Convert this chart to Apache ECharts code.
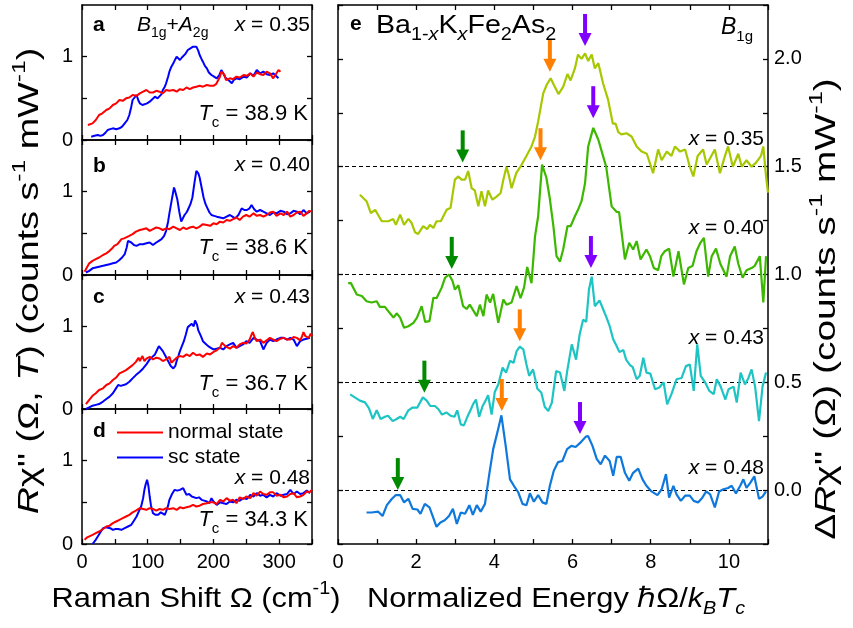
<!DOCTYPE html>
<html><head><meta charset="utf-8">
<script src="https://cdn.jsdelivr.net/npm/echarts@6/dist/echarts.min.js"></script>
<style>html,body{margin:0;padding:0;background:#fff}#c{width:853px;height:628px}</style>
</head><body><div id="c"></div>
<script>
// ---------- DATA (left panels: Raman shift cm^-1 vs R chi'') ----------
const aRed = [[9,0.18],[16,0.20],[21,0.24],[26,0.30],[31,0.32],[37,0.36],[42,0.38],[47,0.42],[52,0.44],[57,0.48],[62,0.47],[67,0.50],[72,0.51],[77,0.54],[83,0.53],[88,0.56],[93,0.58],[98,0.60],[103,0.57],[108,0.57],[113,0.59],[118,0.58],[123,0.56],[128,0.60],[133,0.59],[139,0.60],[144,0.58],[149,0.61],[154,0.60],[159,0.63],[164,0.61],[169,0.63],[174,0.64],[179,0.65],[184,0.64],[190,0.66],[195,0.65],[200,0.65],[204,0.67],[207,0.68],[210,0.76],[212,0.82],[215,0.84],[217,0.78],[219,0.72],[222,0.70],[225,0.74],[230,0.73],[235,0.76],[240,0.75],[246,0.78],[251,0.77],[256,0.80],[261,0.76],[266,0.81],[271,0.79],[276,0.78],[281,0.82],[286,0.80],[291,0.74],[295,0.79],[299,0.84],[302,0.82]];
const aBlue = [[14,0.04],[19,0.05],[24,0.06],[28,0.05],[32,0.06],[36,0.09],[39,0.12],[43,0.13],[47,0.14],[52,0.13],[57,0.14],[61,0.16],[65,0.20],[69,0.24],[72,0.30],[75,0.40],[77,0.48],[80,0.50],[83,0.54],[86,0.47],[88,0.44],[92,0.42],[95,0.42],[99,0.44],[103,0.46],[107,0.49],[111,0.52],[115,0.50],[118,0.50],[121,0.55],[123,0.60],[126,0.64],[128,0.68],[131,0.76],[133,0.82],[136,0.88],[139,0.92],[142,0.97],[144,1.00],[147,0.98],[149,0.96],[152,0.99],[154,1.00],[157,1.03],[161,1.08],[165,1.10],[169,1.12],[172,1.10],[174,1.12],[177,1.07],[179,1.02],[182,0.97],[184,0.94],[187,0.89],[190,0.86],[193,0.81],[197,0.78],[201,0.76],[205,0.74],[209,0.78],[212,0.84],[215,0.80],[218,0.75],[220,0.74],[224,0.71],[228,0.68],[231,0.72],[235,0.74],[240,0.73],[246,0.76],[251,0.75],[256,0.80],[261,0.77],[266,0.84],[271,0.80],[276,0.82],[281,0.79],[286,0.78],[291,0.80],[295,0.77],[299,0.74]];
const bRed = [[4,0.04],[8,0.10],[11,0.14],[16,0.17],[21,0.19],[26,0.21],[32,0.24],[37,0.26],[42,0.29],[46,0.32],[49,0.35],[54,0.37],[57,0.40],[60,0.43],[64,0.44],[67,0.45],[72,0.47],[77,0.49],[82,0.52],[88,0.54],[93,0.55],[98,0.56],[103,0.53],[108,0.55],[113,0.57],[118,0.56],[123,0.54],[128,0.56],[133,0.55],[139,0.58],[144,0.56],[149,0.54],[154,0.57],[159,0.55],[164,0.57],[169,0.58],[174,0.56],[179,0.58],[184,0.61],[190,0.60],[195,0.59],[200,0.62],[205,0.61],[210,0.64],[215,0.63],[220,0.66],[225,0.65],[230,0.67],[235,0.69],[240,0.66],[245,0.70],[250,0.72],[255,0.70],[261,0.74],[266,0.71],[271,0.72],[276,0.70],[281,0.72],[286,0.75],[291,0.76],[296,0.71],[302,0.74],[307,0.72],[312,0.76],[317,0.70],[322,0.72],[327,0.75],[332,0.76],[337,0.71],[342,0.74],[346,0.77],[350,0.76]];
const bBlue = [[6,0.03],[11,0.05],[16,0.08],[21,0.09],[26,0.10],[32,0.11],[37,0.12],[42,0.13],[47,0.14],[52,0.15],[57,0.18],[61,0.21],[65,0.25],[68,0.33],[70,0.41],[73,0.40],[75,0.39],[79,0.36],[83,0.35],[88,0.37],[93,0.37],[98,0.38],[103,0.39],[108,0.36],[113,0.39],[117,0.41],[121,0.43],[125,0.47],[128,0.53],[131,0.64],[133,0.74],[137,0.92],[140,1.05],[142,1.00],[145,0.91],[148,0.76],[151,0.64],[153,0.66],[156,0.72],[159,0.75],[161,0.78],[165,0.85],[168,0.93],[171,1.10],[174,1.25],[177,1.22],[179,1.17],[182,1.05],[185,0.93],[188,0.85],[191,0.80],[194,0.75],[197,0.72],[201,0.71],[205,0.70],[210,0.69],[215,0.68],[220,0.70],[225,0.72],[229,0.70],[233,0.68],[238,0.72],[243,0.80],[247,0.78],[251,0.78],[255,0.80],[258,0.84],[262,0.79],[266,0.76],[271,0.78],[276,0.76],[281,0.74],[286,0.72],[291,0.75],[296,0.74],[302,0.77],[307,0.76],[312,0.73],[317,0.74],[322,0.77],[327,0.76],[332,0.73],[337,0.78],[342,0.74],[347,0.76]];
const cRed = [[6,0.06],[11,0.11],[16,0.16],[21,0.19],[26,0.23],[32,0.25],[37,0.29],[42,0.31],[47,0.35],[52,0.38],[57,0.43],[62,0.45],[67,0.47],[72,0.50],[77,0.53],[82,0.57],[86,0.62],[88,0.58],[92,0.64],[95,0.58],[98,0.61],[103,0.63],[108,0.60],[113,0.62],[118,0.61],[123,0.58],[128,0.60],[133,0.63],[136,0.56],[139,0.58],[144,0.62],[149,0.64],[154,0.63],[159,0.66],[164,0.64],[169,0.68],[174,0.65],[179,0.66],[184,0.63],[190,0.67],[195,0.66],[200,0.69],[205,0.71],[210,0.74],[213,0.80],[215,0.82],[218,0.76],[220,0.74],[225,0.73],[230,0.76],[235,0.74],[240,0.78],[245,0.80],[250,0.79],[255,0.84],[258,0.90],[260,0.93],[263,0.86],[266,0.82],[271,0.84],[276,0.80],[281,0.83],[286,0.86],[291,0.84],[296,0.82],[302,0.85],[307,0.86],[312,0.84],[317,0.84],[322,0.87],[327,0.86],[332,0.83],[335,0.88],[337,0.93],[340,0.88],[345,0.86],[348,0.91],[350,0.88]];
const cBlue = [[6,0.0],[11,0.02],[16,0.04],[21,0.05],[26,0.06],[32,0.09],[37,0.12],[42,0.15],[47,0.19],[51,0.24],[55,0.29],[59,0.28],[62,0.27],[67,0.30],[72,0.33],[77,0.37],[82,0.41],[88,0.45],[93,0.49],[98,0.54],[103,0.60],[107,0.63],[111,0.66],[114,0.71],[117,0.76],[120,0.73],[123,0.70],[127,0.64],[131,0.58],[135,0.52],[139,0.49],[142,0.52],[144,0.58],[147,0.65],[149,0.70],[152,0.76],[155,0.82],[158,0.90],[161,0.99],[164,1.01],[167,1.03],[170,1.00],[172,1.07],[175,1.02],[177,0.95],[181,0.88],[184,0.82],[188,0.79],[192,0.76],[196,0.74],[200,0.72],[205,0.73],[210,0.74],[215,0.72],[220,0.76],[225,0.78],[230,0.80],[235,0.74],[240,0.76],[245,0.78],[250,0.82],[255,0.80],[261,0.86],[266,0.84],[271,0.82],[276,0.72],[281,0.80],[286,0.84],[291,0.82],[296,0.84],[302,0.86],[307,0.86],[312,0.84],[317,0.86],[322,0.84],[327,0.76],[332,0.82],[337,0.84],[342,0.85],[347,0.86]];
const dRed = [[4,0.05],[8,0.08],[11,0.10],[16,0.11],[21,0.13],[26,0.15],[32,0.18],[37,0.21],[42,0.22],[47,0.25],[52,0.27],[57,0.29],[62,0.31],[67,0.33],[72,0.35],[77,0.38],[82,0.40],[88,0.43],[93,0.42],[98,0.41],[103,0.43],[108,0.42],[113,0.40],[118,0.42],[123,0.41],[128,0.43],[133,0.42],[139,0.43],[144,0.41],[149,0.44],[154,0.43],[159,0.44],[164,0.45],[169,0.47],[174,0.45],[179,0.46],[184,0.48],[190,0.49],[195,0.50],[200,0.50],[205,0.48],[210,0.53],[215,0.51],[220,0.55],[225,0.52],[230,0.53],[235,0.49],[240,0.56],[245,0.54],[250,0.57],[256,0.55],[261,0.61],[266,0.58],[271,0.63],[276,0.60],[281,0.59],[286,0.62],[291,0.62],[296,0.58],[302,0.59],[307,0.56],[312,0.57],[317,0.60],[322,0.61],[327,0.56],[332,0.57],[337,0.59],[342,0.63],[346,0.62],[350,0.65]];
const dBlue = [[16,0.0],[20,0.04],[24,0.09],[28,0.14],[32,0.19],[36,0.20],[39,0.21],[43,0.19],[47,0.17],[51,0.18],[55,0.18],[60,0.17],[65,0.19],[70,0.21],[75,0.23],[79,0.28],[83,0.33],[87,0.40],[90,0.45],[93,0.55],[95,0.65],[97,0.72],[99,0.77],[101,0.70],[103,0.57],[105,0.46],[108,0.37],[112,0.35],[116,0.35],[120,0.38],[123,0.37],[126,0.35],[128,0.39],[131,0.46],[133,0.53],[137,0.60],[141,0.65],[145,0.64],[149,0.65],[152,0.66],[154,0.67],[157,0.62],[159,0.59],[163,0.60],[167,0.57],[170,0.58],[174,0.55],[178,0.56],[182,0.53],[186,0.52],[190,0.51],[194,0.49],[197,0.55],[200,0.51],[205,0.47],[210,0.50],[215,0.49],[220,0.48],[225,0.51],[230,0.50],[235,0.53],[240,0.52],[246,0.55],[251,0.54],[256,0.59],[261,0.57],[266,0.61],[271,0.58],[276,0.59],[281,0.56],[286,0.59],[291,0.57],[296,0.61],[302,0.58],[307,0.59],[312,0.60],[317,0.65],[322,0.60],[327,0.63],[332,0.60],[337,0.61],[342,0.64],[347,0.61]];

// ---------- DATA (panel e: normalized energy vs Delta R chi'' , curves already offset) ----------
const e035 = [[0.56,1.37],[0.73,1.34],[0.84,1.285],[0.95,1.30],[1.12,1.247],[1.29,1.247],[1.41,1.258],[1.48,1.23],[1.59,1.278],[1.69,1.23],[1.80,1.258],[1.88,1.24],[1.97,1.196],[2.05,1.188],[2.18,1.224],[2.28,1.21],[2.35,1.23],[2.44,1.216],[2.52,1.247],[2.63,1.247],[2.78,1.30],[2.88,1.31],[2.99,1.44],[3.08,1.455],[3.16,1.44],[3.25,1.44],[3.33,1.48],[3.42,1.40],[3.50,1.39],[3.59,1.316],[3.67,1.386],[3.76,1.316],[3.84,1.39],[3.95,1.347],[4.05,1.36],[4.16,1.378],[4.23,1.44],[4.31,1.50],[4.37,1.46],[4.44,1.40],[4.56,1.47],[4.70,1.51],[4.82,1.55],[4.95,1.594],[5.04,1.64],[5.12,1.71],[5.25,1.84],[5.34,1.88],[5.44,1.91],[5.52,1.88],[5.64,1.837],[5.76,1.87],[5.87,1.93],[5.95,1.90],[6.06,1.956],[6.14,2.02],[6.23,2.0],[6.32,2.026],[6.40,1.99],[6.49,2.02],[6.57,1.956],[6.66,1.98],[6.78,1.887],[6.91,1.81],[7.03,1.70],[7.10,1.70],[7.17,1.66],[7.25,1.65],[7.38,1.655],[7.51,1.64],[7.64,1.594],[7.77,1.57],[7.90,1.56],[8.06,1.47],[8.19,1.58],[8.28,1.53],[8.41,1.57],[8.53,1.55],[8.62,1.594],[8.75,1.57],[8.88,1.58],[9.00,1.50],[9.09,1.455],[9.20,1.55],[9.34,1.58],[9.43,1.51],[9.55,1.55],[9.64,1.58],[9.77,1.47],[9.90,1.55],[9.98,1.594],[10.10,1.50],[10.24,1.56],[10.33,1.50],[10.45,1.53],[10.58,1.50],[10.70,1.52],[10.82,1.55],[10.88,1.594],[10.95,1.455],[11.0,1.38]];
const e040 = [[0.26,0.96],[0.33,0.96],[0.48,0.907],[0.61,0.90],[0.73,0.876],[0.86,0.87],[0.99,0.876],[1.07,0.85],[1.2,0.85],[1.33,0.82],[1.42,0.80],[1.5,0.82],[1.59,0.80],[1.69,0.753],[1.8,0.76],[1.93,0.776],[2.02,0.80],[2.14,0.853],[2.23,0.78],[2.34,0.784],[2.44,0.892],[2.52,0.89],[2.65,0.938],[2.74,0.985],[2.84,1.0],[2.93,0.97],[2.99,0.93],[3.08,0.95],[3.2,0.853],[3.29,0.84],[3.37,0.86],[3.55,0.807],[3.63,0.86],[3.72,0.807],[3.80,0.907],[3.89,0.87],[3.97,0.91],[4.10,0.776],[4.23,0.884],[4.31,0.86],[4.44,0.87],[4.57,0.946],[4.67,0.89],[4.76,0.94],[4.84,1.035],[4.95,0.96],[5.04,1.177],[5.12,1.27],[5.22,1.51],[5.33,1.45],[5.42,1.35],[5.51,1.224],[5.59,1.085],[5.68,1.06],[5.76,1.116],[5.87,1.224],[5.95,1.224],[6.06,1.27],[6.14,1.30],[6.23,1.34],[6.32,1.424],[6.40,1.594],[6.53,1.68],[6.66,1.625],[6.77,1.556],[6.86,1.50],[7.0,1.316],[7.13,1.29],[7.19,1.29],[7.34,1.07],[7.45,1.147],[7.55,1.116],[7.64,1.155],[7.74,1.07],[7.89,1.116],[7.98,1.085],[8.08,1.03],[8.19,1.02],[8.27,1.085],[8.36,1.108],[8.47,1.12],[8.58,0.99],[8.71,1.108],[8.85,0.954],[8.96,1.03],[9.07,1.04],[9.17,1.108],[9.27,1.147],[9.36,1.17],[9.47,0.99],[9.56,1.085],[9.67,1.12],[9.78,1.05],[9.86,1.02],[9.94,0.99],[10.03,1.085],[10.15,1.13],[10.24,1.05],[10.35,0.985],[10.45,1.02],[10.58,1.03],[10.66,1.04],[10.79,1.085],[10.88,0.87],[10.95,1.085]];
const e043 = [[0.31,0.444],[0.43,0.43],[0.56,0.415],[0.69,0.407],[0.79,0.38],[0.89,0.33],[0.99,0.37],[1.09,0.33],[1.2,0.34],[1.28,0.345],[1.40,0.32],[1.5,0.33],[1.59,0.34],[1.68,0.33],[1.8,0.37],[1.91,0.383],[2.03,0.383],[2.17,0.43],[2.27,0.415],[2.36,0.39],[2.48,0.39],[2.57,0.375],[2.66,0.35],[2.77,0.36],[2.88,0.345],[2.98,0.34],[3.05,0.37],[3.14,0.305],[3.22,0.30],[3.31,0.34],[3.4,0.375],[3.46,0.40],[3.53,0.42],[3.61,0.34],[3.7,0.39],[3.76,0.41],[3.84,0.44],[3.93,0.35],[4.01,0.455],[4.1,0.49],[4.21,0.568],[4.3,0.545],[4.4,0.60],[4.49,0.59],[4.57,0.645],[4.65,0.665],[4.74,0.653],[4.82,0.584],[4.89,0.53],[4.99,0.56],[5.1,0.47],[5.2,0.453],[5.29,0.385],[5.38,0.367],[5.47,0.405],[5.58,0.552],[5.68,0.545],[5.79,0.46],[5.87,0.56],[5.98,0.676],[6.09,0.605],[6.18,0.72],[6.27,0.79],[6.35,0.78],[6.42,0.93],[6.49,0.99],[6.57,0.853],[6.69,0.88],[6.78,0.84],[6.87,0.80],[6.95,0.76],[7.04,0.70],[7.13,0.667],[7.2,0.64],[7.3,0.65],[7.37,0.605],[7.47,0.58],[7.54,0.57],[7.64,0.514],[7.72,0.53],[7.81,0.614],[7.89,0.545],[7.99,0.54],[8.11,0.468],[8.22,0.476],[8.33,0.50],[8.42,0.398],[8.53,0.445],[8.66,0.514],[8.79,0.52],[8.9,0.575],[9.0,0.583],[9.1,0.46],[9.19,0.676],[9.28,0.53],[9.39,0.50],[9.5,0.46],[9.61,0.445],[9.69,0.514],[9.79,0.48],[9.91,0.42],[9.99,0.468],[10.12,0.48],[10.2,0.406],[10.3,0.545],[10.41,0.49],[10.5,0.52],[10.58,0.56],[10.67,0.48],[10.77,0.32],[10.86,0.48],[10.95,0.545]];
const e048 = [[0.73,-0.104],[0.86,-0.104],[1.03,-0.10],[1.14,-0.12],[1.25,-0.07],[1.38,-0.04],[1.48,-0.023],[1.59,-0.023],[1.69,-0.057],[1.8,-0.04],[1.91,-0.087],[2.03,-0.09],[2.11,-0.11],[2.22,-0.064],[2.34,-0.08],[2.42,-0.12],[2.52,-0.17],[2.62,-0.15],[2.73,-0.14],[2.84,-0.12],[2.94,-0.087],[3.04,-0.157],[3.14,-0.104],[3.25,-0.11],[3.36,-0.07],[3.45,-0.115],[3.55,-0.07],[3.65,-0.10],[3.76,-0.064],[3.87,0.074],[3.97,0.19],[4.08,0.27],[4.18,0.347],[4.29,0.205],[4.4,0.05],[4.5,0.02],[4.61,-0.01],[4.72,-0.064],[4.82,-0.07],[4.91,-0.015],[5.01,-0.054],[5.12,-0.023],[5.23,-0.057],[5.33,-0.064],[5.42,0.02],[5.52,0.09],[5.63,0.13],[5.74,0.135],[5.86,0.19],[5.97,0.205],[6.08,0.20],[6.2,0.22],[6.34,0.248],[6.40,0.25],[6.51,0.205],[6.62,0.144],[6.72,0.12],[6.83,0.16],[6.95,0.135],[7.04,0.066],[7.13,0.154],[7.23,0.154],[7.34,0.08],[7.45,0.043],[7.55,0.08],[7.68,0.10],[7.79,0.05],[7.89,0.02],[8.02,-0.006],[8.17,-0.023],[8.28,0.004],[8.39,0.074],[8.47,-0.035],[8.58,0.02],[8.66,-0.02],[8.77,-0.05],[8.88,-0.026],[9.0,-0.026],[9.1,-0.05],[9.21,-0.057],[9.32,-0.035],[9.42,-0.006],[9.52,-0.02],[9.64,-0.08],[9.75,-0.006],[9.86,0.004],[9.98,0.01],[10.07,0.02],[10.18,-0.015],[10.29,0.02],[10.37,0.05],[10.45,0.01],[10.55,0.035],[10.65,0.064],[10.77,-0.04],[10.86,-0.03],[10.95,-0.006]];
const eOffsets = [1.5, 1.0, 0.5, 0.0];
const eLabels = ['x = 0.35', 'x = 0.40', 'x = 0.43', 'x = 0.48'];
// arrows: [x, y of tip]
const arrowsGreen = [[3.19,1.52],[2.91,1.026],[2.21,0.452],[1.53,0.0]];
const arrowsOrange = [[5.42,1.94],[5.18,1.53],[4.65,0.69],[4.19,0.367]];
const arrowsPurple = [[6.32,2.06],[6.53,1.725],[6.47,1.03],[6.19,0.26]];
const leftX = ['0.35','0.40','0.43','0.48'];
const leftTc = ['38.9','38.6','36.7','34.3'];
const xTicksLeft = [0,100,200,300];
const yTicksLeft = [0,0.5,1];
const yLabelsLeft = [0,1];
const yTicksRight = [0.0,0.5,1.0,1.5,2.0];

// ---------- CHART ----------
const FF = '"Liberation Sans", Arial, sans-serif';
const chart = echarts.init(document.getElementById('c'), null, {renderer:'canvas'});
const leftPanels = [
  {top:5, h:135, red:aRed, blue:aBlue},
  {top:140, h:135, red:bRed, blue:bBlue},
  {top:275, h:134, red:cRed, blue:cBlue},
  {top:409, h:135, red:dRed, blue:dBlue}
];
const axLine = {onZero:false, lineStyle:{color:'#000', width:1.5}};
const tick = {inside:true, length:5, lineStyle:{color:'#000', width:1.3}};
const lbl = {fontSize:20, color:'#000', fontFamily:FF};
const grid = [], xAxis = [], yAxis = [], series = [];
leftPanels.forEach((p,i)=>{
  grid.push({left:82, top:p.top, width:230, height:p.h});
  xAxis.push({gridIndex:i, type:'value', min:0, max:350, interval:50, position:'bottom', axisLine:axLine, axisTick:tick, splitLine:{show:false},
    axisLabel:Object.assign({show:i===3, margin:8, formatter:v=> xTicksLeft.includes(v)? String(v):''}, lbl)});
  xAxis.push({gridIndex:i, type:'value', min:0, max:350, interval:50, position:'top', axisLine:axLine, axisTick:tick, splitLine:{show:false}, axisLabel:{show:false}});
  yAxis.push({gridIndex:i, type:'value', min:0, max:1.62, interval:0.5, position:'left', axisLine:axLine,
    axisTick:Object.assign({customValues:yTicksLeft}, tick), splitLine:{show:false},
    axisLabel:Object.assign({margin:9, customValues:yLabelsLeft, formatter:v=> String(v)}, lbl)});
  yAxis.push({gridIndex:i, type:'value', min:0, max:1.62, interval:0.5, position:'right', axisLine:axLine,
    axisTick:Object.assign({customValues:yTicksLeft}, tick), splitLine:{show:false}, axisLabel:{show:false}});
  series.push({type:'line', name:'sc state', xAxisIndex:2*i, yAxisIndex:2*i, data:p.blue, symbol:'none', lineStyle:{color:'#0000ff', width:2}, itemStyle:{color:'#0000ff'}, z:2});
  series.push({type:'line', name:'normal state', xAxisIndex:2*i, yAxisIndex:2*i, data:p.red, symbol:'none', lineStyle:{color:'#ff0000', width:2}, itemStyle:{color:'#ff0000'}, z:3});
});
grid.push({left:338, top:5, width:430, height:539});
xAxis.push({gridIndex:4, type:'value', min:0, max:11, interval:1, position:'bottom', axisLine:axLine, axisTick:tick, splitLine:{show:false},
  axisLabel:Object.assign({margin:8, formatter:v=> (v%2===0 && v<=10)? String(v):''}, lbl)});
xAxis.push({gridIndex:4, type:'value', min:0, max:11, interval:1, position:'top', axisLine:axLine, axisTick:tick, splitLine:{show:false}, axisLabel:{show:false}});
yAxis.push({gridIndex:4, type:'value', min:-0.25, max:2.25, interval:0.25, position:'right', axisLine:axLine, axisTick:tick, splitLine:{show:false},
  axisLabel:Object.assign({margin:6, formatter:v=>{ const m = yTicksRight.find(t=>Math.abs(t-v)<1e-6); return m===undefined? '' : m.toFixed(1);} }, lbl)});
yAxis.push({gridIndex:4, type:'value', min:-0.25, max:2.25, interval:0.25, position:'left', axisLine:axLine, axisTick:tick, splitLine:{show:false}, axisLabel:{show:false}});
const eCols = ['#a6c800','#3cb800','#1ec4c4','#0f78dc'];
[e035,e040,e043,e048].forEach((d,k)=>{
  series.push({type:'line', xAxisIndex:8, yAxisIndex:8, data:d, symbol:'none', lineStyle:{color:eCols[k], width:2.2}, z:3,
    markLine:{silent:true, symbol:'none', label:{show:false}, lineStyle:{color:'#000', type:[4,3], width:1.2}, data:[{yAxis:eOffsets[k]}], z:1}});
});
function arrowSeries(data, color){
  return {type:'custom', xAxisIndex:8, yAxisIndex:8, data, z:10, clip:false, encode:{x:0,y:1},
    renderItem:(params, api)=>{
      const p = api.coord([api.value(0), api.value(1)]);
      return {type:'group', children:[
        {type:'rect', shape:{x:p[0]-2, y:p[1]-32, width:4, height:21}, style:{fill:color}},
        {type:'polygon', shape:{points:[[p[0]-6.5,p[1]-13],[p[0]+6.5,p[1]-13],[p[0],p[1]]]}, style:{fill:color}}
      ]};
    }};
}
series.push(arrowSeries(arrowsGreen,'#008a00'));
series.push(arrowSeries(arrowsOrange,'#ff7f00'));
series.push(arrowSeries(arrowsPurple,'#8000ff'));

// ---------- TEXT ----------
function richSet(F, subRatio){
  const S = Math.round(F*(subRatio||0.66)), L = F+10;
  const base = {fontFamily:FF, fill:'#000'};
  return {
    n:Object.assign({fontSize:F, lineHeight:L}, base),
    i:Object.assign({fontSize:F, lineHeight:L, fontStyle:'italic'}, base),
    b:Object.assign({fontSize:F, lineHeight:L, fontWeight:'bold'}, base),
    sub:Object.assign({fontSize:S, lineHeight:S, verticalAlign:'bottom'}, base),
    subi:Object.assign({fontSize:S, lineHeight:S, verticalAlign:'bottom', fontStyle:'italic'}, base),
    sup:Object.assign({fontSize:S, lineHeight:S, verticalAlign:'top'}, base)
  };
}
function T(x, y, text, F, align, rot, sx, subRatio){
  return {type:'text', x, y, rotation:rot||0, scaleX:sx||1, z:100, silent:true,
    style:{text, rich:richSet(F, subRatio), align:align||'left', verticalAlign:'middle', font:F+'px '+FF, fill:'#000'}};
}
const graphic = [];
const lCenters = [[25,25,114],[166,165,248],[297,297,384],[431,478,520]];
['a','b','c','d'].forEach((L,i)=>{
  graphic.push(T(93, lCenters[i][0], '{b|'+L+'}', 21));
  graphic.push(T(310, lCenters[i][1], '{i|x}{n| = '+leftX[i]+'}', 21, 'right'));
  graphic.push(T(308, lCenters[i][2], '{i|T}{sub|c}{n| = '+leftTc[i]+' K}', 22, 'right'));
});
graphic.push(T(137, 25, '{i|B}{sub|1g}{n|+}{i|A}{sub|2g}', 21));
graphic.push(T(350, 24, '{b|e}', 21));
graphic.push(T(376, 26, '{n|Ba}{sub|1-}{subi|x}{n|K}{subi|x}{n|Fe}{sub|2}{n|As}{sub|2}', 26, 'left', 0, 1.1, 0.7));
graphic.push(T(721, 28, '{i|B}{sub|1g}', 23));
const eLabelY = [139, 228, 338, 468];
eLabels.forEach((s,k)=>{
  graphic.push(T(764, eLabelY[k], '{i|x}{n|'+s.slice(1)+'}', 21, 'right'));
});
graphic.push(T(196, 599, '{n|Raman Shift Ω (cm}{sup|-1}{n|)}', 28, 'center', 0, 1.1));
graphic.push(T(556, 599, '{n|Normalized Energy ℏΩ/}{i|k}{subi|B}{i|T}{subi|c}', 28, 'center', 0, 1.1));
graphic.push(T(30, 281, "{i|R}{n|χ'' (Ω, }{i|T}{n|) (counts s}{sup|-1}{n| mW}{sup|-1}{n|)}", 29, 'center', Math.PI/2, 1.3));
graphic.push(T(827, 309, "{n|Δ}{i|R}{n|χ'' (Ω) (counts s}{sup|-1}{n| mW}{sup|-1}{n|)}", 29, 'center', Math.PI/2, 1.34));

chart.setOption({
  animation:false,
  backgroundColor:'#fff',
  grid, xAxis, yAxis, series, graphic,
  legend:{data:['normal state','sc state'], orient:'vertical', left:112, top:417, icon:'rect', itemWidth:46, itemHeight:2, itemGap:4,
    textStyle:{fontSize:21, color:'#000', fontFamily:FF}, selectedMode:false}
});
</script>
</body></html>
